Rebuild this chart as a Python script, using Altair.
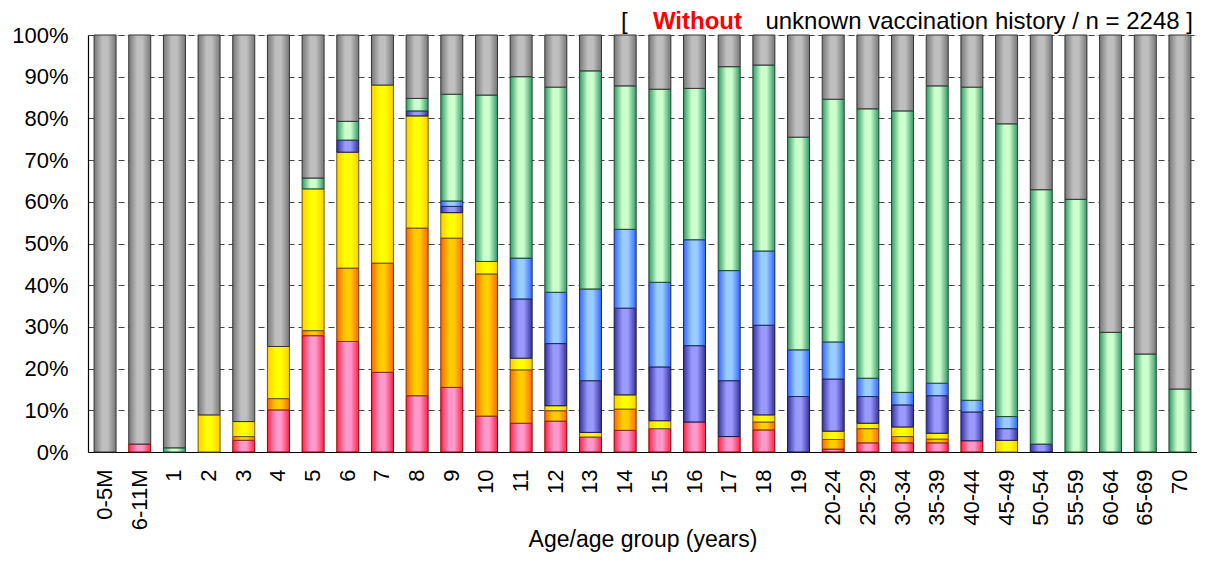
import altair as alt
import pandas as pd

ages = ["0-5M", "6-11M", "1", "2", "3", "4", "5", "6", "7", "8", "9", "10", "11", "12",
        "13", "14", "15", "16", "17", "18", "19", "20-24", "25-29", "30-34", "35-39",
        "40-44", "45-49", "50-54", "55-59", "60-64", "65-69", "70"]

pink   = [0, 1.9, 0, 0, 2.8, 10.1, 27.9, 26.5, 19.1, 13.5, 15.5, 8.6, 6.9, 7.4, 3.6, 5.2, 5.6, 7.2, 3.7, 5.3, 0, 0.7, 2.2, 2.2, 2.2, 2.7, 0, 0, 0, 0, 0, 0]
orange = [0, 0, 0, 0, 0.9, 2.7, 1.2, 17.6, 26.2, 40.2, 35.8, 34.1, 12.8, 2.5, 0, 5.1, 0, 0, 0, 1.9, 0, 2.3, 3.4, 1.5, 0.9, 0, 0, 0, 0, 0, 0, 0]
yellow = [0, 0, 0, 8.9, 3.6, 12.5, 34.0, 27.8, 42.7, 26.9, 6.1, 3.0, 2.8, 1.2, 1.1, 3.4, 1.9, 0, 0, 1.7, 0, 2.0, 1.3, 2.3, 1.4, 0, 2.8, 0, 0, 0, 0, 0]
purple = [0, 0, 0, 0, 0, 0, 0, 2.9, 0, 1.2, 1.5, 0, 14.2, 14.9, 12.4, 20.8, 12.9, 18.3, 13.4, 21.5, 13.3, 12.5, 6.4, 5.3, 9.0, 6.9, 2.8, 1.9, 0, 0, 0, 0]
lblue  = [0, 0, 0, 0, 0, 0, 0, 0, 0, 0, 1.3, 0, 9.8, 12.3, 22.0, 18.9, 20.3, 25.4, 26.4, 17.8, 11.2, 8.9, 4.4, 3.0, 3.0, 2.8, 2.9, 0, 0, 0, 0, 0]
green  = [0, 0, 1.0, 0, 0, 0, 2.6, 4.5, 0, 3.0, 25.6, 39.9, 43.5, 49.2, 52.3, 34.4, 46.3, 36.3, 48.9, 44.6, 51.0, 58.2, 64.6, 67.5, 71.3, 75.1, 70.2, 61.0, 60.6, 28.7, 23.5, 15.1]
gray   = [100, 98.1, 99.0, 91.1, 92.7, 74.7, 34.3, 20.7, 12.0, 15.2, 14.2, 14.4, 10.0, 12.5, 8.6, 12.2, 13.0, 12.8, 7.6, 7.2, 24.5, 15.4, 17.7, 18.2, 12.2, 12.5, 21.3, 37.1, 39.4, 71.3, 76.5, 84.9]

series_names = ["pink", "orange", "yellow", "purple", "lblue", "green", "gray"]
series_vals = [pink, orange, yellow, purple, lblue, green, gray]
# (edge colour, centre colour, outline colour)
series_cols = {
    "pink":   ("#FF2244", "#FF99CC", "#8B0000"),
    "orange": ("#FF6600", "#FFCC00", "#7A3300"),
    "yellow": ("#FFCC00", "#FFFF00", "#6B5A00"),
    "purple": ("#333399", "#9999FF", "#1A1A4D"),
    "lblue":  ("#3366FF", "#99CCFF", "#1A2A66"),
    "green":  ("#339966", "#CCFFCC", "#1A4D33"),
    "gray":   ("#777777", "#BFBFBF", "#333333"),
}

rows = []
for si, (name, vals) in enumerate(zip(series_names, series_vals)):
    for a, v in zip(ages, vals):
        rows.append({"age": a, "series": name, "order": si, "value": v})
df = pd.DataFrame(rows)

W, H = 1109, 417

x_enc = alt.X("age:N", sort=ages,
              scale=alt.Scale(paddingInner=0.366, paddingOuter=0.175),
              axis=alt.Axis(labelAngle=270, labelFont="Liberation Sans", labelFontSize=22,
                            labelColor="black", tickSize=0, labelPadding=17,
                            domainColor="black", domainWidth=1.2,
                            title="Age/age group (years)", titleFont="Liberation Sans",
                            titleFontSize=23, titleFontWeight="normal", titleColor="black",
                            titleY=76, titleBaseline="top"))
y_enc = alt.Y("y0:Q", scale=alt.Scale(domain=[0, 100], nice=False),
              axis=alt.Axis(values=list(range(0, 101, 10)), labelExpr="datum.value + '%'",
                            labelFont="Liberation Sans", labelFontSize=22, labelColor="black",
                            tickSize=0, labelPadding=20, domainColor="black", domainWidth=1.2,
                            grid=True, gridColor="#444444", gridDash=[6, 4], gridWidth=1,
                            title=None))

base = alt.Chart(df).transform_stack(
    stack="value", groupby=["age"], as_=["y0", "y1"],
    sort=[alt.SortField("order", order="ascending")])

layers = []
for name in series_names:
    edge, centre, outline = series_cols[name]
    grad = alt.Gradient(gradient="linear", x1=0, x2=1, y1=0, y2=0,
                        stops=[alt.GradientStop(color=edge, offset=0),
                               alt.GradientStop(color=centre, offset=0.38),
                               alt.GradientStop(color=centre, offset=0.62),
                               alt.GradientStop(color=edge, offset=1)])
    layers.append(
        base.transform_filter(alt.datum.series == name)
        .transform_filter(alt.datum.value > 0)
        .mark_bar(fill=grad, stroke=outline, strokeWidth=1)
        .encode(x=x_enc, y=y_enc, y2="y1:Q")
    )

title_y = -25
t1 = alt.Chart(pd.DataFrame({"t": ["["]})).mark_text(
    font="Liberation Sans", fontSize=24, align="left", baseline="top", color="black"
).encode(text="t:N", x=alt.value(533), y=alt.value(title_y))
t2 = alt.Chart(pd.DataFrame({"t": ["Without"]})).mark_text(
    font="Liberation Sans", fontSize=24, fontWeight="bold", align="right", baseline="top",
    color="#FF0000"
).encode(text="t:N", x=alt.value(654), y=alt.value(title_y))
t3 = alt.Chart(pd.DataFrame({"t": ["unknown vaccination history  / n = 2248 ]"]})).mark_text(
    font="Liberation Sans", fontSize=24, align="right", baseline="top", color="black"
).encode(text="t:N", x=alt.value(1105), y=alt.value(title_y))

chart = alt.layer(*layers, t1, t2, t3).properties(
    width=W, height=H,
    autosize=alt.AutoSizeParams(type="none"),
    padding={"left": 80, "top": 27, "right": 0, "bottom": 100},
).configure_view(stroke="black", strokeWidth=1.2).configure(background="white")

chart.save("out.html", embed_options={"renderer": "svg", "actions": False})
